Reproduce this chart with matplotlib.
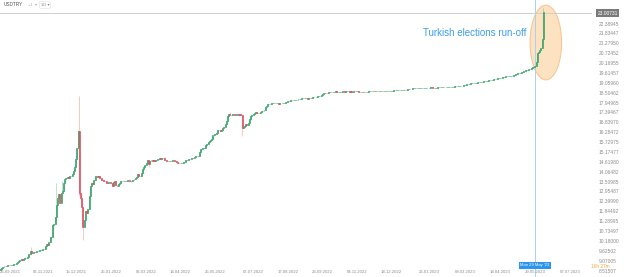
import numpy as np
import pandas as pd
import matplotlib
matplotlib.use("Agg")
import matplotlib.pyplot as plt
import matplotlib.transforms as mtransforms
from matplotlib.patches import Ellipse

plt.rcParams['font.family'] = ['Liberation Sans', 'DejaVu Sans']

# USD/TRY daily closes, month by month (business days)
sep_2021 = [8.62, 8.70, 8.75, 8.82, 8.78, 8.80, 8.85, 8.87, 8.88]
oct_2021 = [8.87, 8.88, 8.90, 8.92, 8.95, 9.03, 9.10, 9.13, 9.18, 9.15, 9.20,
            9.25, 9.25, 9.28, 9.45, 9.47, 9.62, 9.55, 9.58, 9.60, 9.60]
nov_2021 = [9.63, 9.63, 9.70, 9.70, 9.72, 9.73, 9.78, 9.90, 10.05, 10.00, 10.15,
            10.40, 10.45, 11.10, 11.15, 11.55, 12.20, 12.60, 12.85, 12.35, 12.90, 13.00]
dec_2021 = [13.45, 13.70, 13.75, 13.80, 13.75, 13.85, 13.85, 13.95, 14.15, 14.35, 14.80,
            15.40, 16.40, 12.90, 12.60, 12.10, 11.00, 11.40, 11.90, 11.75, 12.00, 12.75, 13.30]
jan_2022 = [13.45, 13.40, 13.65, 13.85, 13.85, 13.80, 13.85, 13.75, 13.65, 13.65, 13.60,
            13.55, 13.45, 13.45, 13.50, 13.50, 13.45, 13.30, 13.50, 13.55, 13.35]
feb_2022 = [13.30, 13.40, 13.45, 13.55, 13.60, 13.60, 13.60, 13.55, 13.60, 13.65,
            13.60, 13.55, 13.60, 13.65, 13.70, 13.75, 13.80, 13.95, 13.85, 13.85]
mar_2022 = [14.05, 14.25, 14.35, 14.45, 14.60, 14.75, 14.55, 14.70, 14.75, 14.70, 14.75,
            14.70, 14.75, 14.80, 14.80, 14.85, 14.80, 14.85, 14.85, 14.75, 14.75, 14.70, 14.70]
apr_2022 = [14.70, 14.72, 14.70, 14.73, 14.70, 14.72, 14.62, 14.58, 14.60, 14.57, 14.60,
            14.60, 14.65, 14.75, 14.75, 14.78, 14.80, 14.80, 14.85, 14.88, 14.85]
may_2022 = [14.90, 14.95, 14.95, 15.00, 15.20, 15.35, 15.40, 15.45, 15.45, 15.60, 15.65,
            15.75, 15.80, 15.90, 15.95, 16.15, 16.20, 16.20, 16.25, 16.45, 16.45, 16.40]
jun_2022 = [16.45, 16.55, 16.60, 16.75, 16.95, 17.20, 17.35, 17.30, 17.30, 17.35, 17.35,
            17.30, 17.35, 17.35, 17.30, 17.35, 17.30, 16.55, 16.60, 16.65, 16.75, 16.70]
jul_2022 = [16.85, 17.05, 17.20, 17.30, 17.35, 17.40, 17.45, 17.40, 17.40, 17.40, 17.45,
            17.50, 17.50, 17.55, 17.75, 17.80, 17.90, 17.90, 17.90, 17.95, 17.95]
aug_2022 = [17.95, 17.95, 17.95, 17.95, 17.92, 17.95, 17.95, 17.97, 17.98, 17.98, 18.00, 18.05,
            18.05, 18.05, 18.15, 18.10, 18.10, 18.12, 18.12, 18.15, 18.17, 18.18, 18.20]
sep_2022 = [18.22, 18.23, 18.23, 18.24, 18.25, 18.20, 18.23, 18.25, 18.25, 18.28, 18.28,
            18.30, 18.30, 18.32, 18.32, 18.35, 18.40, 18.45, 18.50, 18.53, 18.52, 18.50]
oct_2022 = [18.55, 18.55, 18.58, 18.58, 18.58, 18.60, 18.62, 18.60, 18.60, 18.60, 18.60,
            18.60, 18.62, 18.60, 18.62, 18.62, 18.62, 18.60, 18.62, 18.60, 18.60]
nov_2022 = [18.62, 18.62, 18.62, 18.62, 18.60, 18.60, 18.57, 18.58, 18.60, 18.60, 18.60,
            18.60, 18.62, 18.62, 18.62, 18.62, 18.63, 18.62, 18.62, 18.62, 18.63, 18.63]
dec_2022 = [18.63, 18.63, 18.62, 18.63, 18.63, 18.63, 18.63, 18.63, 18.65, 18.65, 18.65,
            18.67, 18.68, 18.68, 18.68, 18.68, 18.70, 18.70, 18.70, 18.70, 18.70, 18.70]
jan_2023 = [18.72, 18.73, 18.75, 18.75, 18.77, 18.78, 18.78, 18.78, 18.78, 18.80, 18.80,
            18.80, 18.80, 18.80, 18.80, 18.82, 18.82, 18.82, 18.82, 18.83, 18.83, 18.82]
feb_2023 = [18.82, 18.82, 18.82, 18.83, 18.85, 18.85, 18.85, 18.85, 18.85, 18.86,
            18.86, 18.86, 18.87, 18.87, 18.88, 18.88, 18.88, 18.89, 18.89, 18.90]
mar_2023 = [18.90, 18.91, 18.92, 18.93, 18.95, 18.96, 18.98, 19.00, 19.02, 19.03, 19.05, 19.05,
            19.06, 19.07, 19.08, 19.10, 19.11, 19.12, 19.13, 19.15, 19.16, 19.17, 19.18]
apr_2023 = [19.19, 19.20, 19.22, 19.22, 19.24, 19.26, 19.28, 19.30, 19.32, 19.34,
            19.35, 19.37, 19.38, 19.40, 19.42, 19.43, 19.45, 19.45, 19.45, 19.45]
may_2023 = [19.45, 19.47, 19.50, 19.55, 19.58, 19.60, 19.62, 19.65, 19.65, 19.70, 19.70, 19.75,
            19.78, 19.80, 19.80, 19.85, 19.88, 19.92, 19.95, 19.98, 20.05, 20.25, 20.75]
jun_2023 = [20.80, 20.95, 21.05, 21.55, 23.08]

first_open = 8.58

# the few wicks that stick out at this scale
wick_highs = {"2021-10-25": 9.85, "2021-11-23": 13.45, "2021-11-30": 13.60,
              "2021-12-20": 18.36, "2022-06-10": 17.45, "2023-06-07": 23.30}
wick_lows = {"2021-11-23": 11.30, "2021-12-20": 12.75, "2021-12-23": 10.25,
             "2022-03-09": 14.35, "2022-06-24": 16.10}

price_labels = ["22.38945", "21.83447", "21.27950", "20.72452", "20.16955", "19.61457",
                "19.05960", "18.50462", "17.94965", "17.39467", "16.83970", "16.28472",
                "15.72975", "15.17477", "14.61980", "14.06482", "13.50985", "12.95487",
                "12.39990", "11.84492", "11.28995", "10.73497", "10.18000", "9.62502",
                "9.07005", "8.51507"]
date_labels = ["26.09.2021", "06.11.2021", "15.12.2021", "25.01.2022", "06.03.2022",
               "14.04.2022", "25.05.2022", "07.07.2022", "17.08.2022", "26.09.2022",
               "04.11.2022", "14.12.2022", "26.01.2023", "09.03.2023", "18.04.2023",
               "29.05.2023", "07.07.2023"]

runoff_date = "29.05.2023"
cross_price = 23.00731
note = "Turkish elections run-off"

closes = np.array(sep_2021 + oct_2021 + nov_2021 + dec_2021 + jan_2022 + feb_2022 +
                  mar_2022 + apr_2022 + may_2022 + jun_2022 + jul_2022 + aug_2022 +
                  sep_2022 + oct_2022 + nov_2022 + dec_2022 + jan_2023 + feb_2023 +
                  mar_2023 + apr_2023 + may_2023 + jun_2023)
days = pd.bdate_range("2021-09-20", "2023-07-31")
dates = days[:len(closes)]
x = np.arange(len(closes))
opens = np.r_[first_open, closes[:-1]]
highs = np.maximum(opens, closes)
lows = np.minimum(opens, closes)
for d, v in wick_highs.items():
    highs[dates.get_loc(pd.Timestamp(d))] = v
for d, v in wick_lows.items():
    lows[dates.get_loc(pd.Timestamp(d))] = v


def bar_index(label):
    return days.searchsorted(pd.to_datetime(label, dayfirst=True))


green = "#3aa36d"
red = "#e0505e"
grey = "#8c8c8c"

fig = plt.figure(figsize=(6.25, 2.77), dpi=100)
ax = fig.add_axes([0, 0, 592 / 625, 1])
ax.set_xlim(-0.3, 487)
ax.set_ylim(8.18, 23.74)
ax.axis("off")

up = closes >= opens
cols = np.where(up, green, red)
ax.vlines(x, lows, highs, colors=cols, lw=0.5, alpha=0.45, zorder=3)
ax.bar(x[up], (closes - opens)[up], bottom=opens[up], width=0.8,
       color=green, edgecolor=green, linewidth=0.5, zorder=4)
ax.bar(x[~up], (closes - opens)[~up], bottom=opens[~up], width=0.8,
       color=red, edgecolor=red, linewidth=0.5, zorder=4)

# crosshair
ri = bar_index(runoff_date)
ax.axvline(ri, color="#a9d0f5", lw=0.7, zorder=2)
ax.axhline(cross_price, color="#cfcfcf", lw=0.7, zorder=2)

# annotation
ax.add_patch(Ellipse((ri + 9, 21.35), 26, 4.2, facecolor="#fcd9ad", alpha=0.75,
                     edgecolor="#f6b56b", lw=0.7, zorder=1))
ax.text(ri - 7, 21.9, note, color="#3d9cf0", fontsize=7.0, ha="right", va="center")

# price axis
right = mtransforms.blended_transform_factory(ax.transAxes, ax.transData)
for lab in price_labels:
    ax.text(1.011, float(lab), lab, transform=right, fontsize=3.5, color=grey,
            ha="left", va="center", clip_on=False)
ax.text(1.009, cross_price, f"{cross_price:.5f}", transform=right, fontsize=3.5,
        color="white", ha="left", va="center", clip_on=False,
        bbox=dict(boxstyle="square,pad=0.25", fc="#7a7a7a", ec="none"))
ax.text(0.999, 0.038, "16h 27m", transform=ax.transAxes, fontsize=3.4, color="#f5a53f",
        ha="left", va="center", clip_on=False)

# time axis
bottom = mtransforms.blended_transform_factory(ax.transData, ax.transAxes)
for lab in date_labels:
    pos = bar_index(lab)
    ax.text(max(pos, 8), 0.018, lab, transform=bottom, fontsize=3.1, color=grey,
            ha="center", va="center", clip_on=False)
ax.text(ri, 0.042, "Mon 29 May '23", transform=bottom, fontsize=3.0,
        color="white", ha="center", va="center",
        bbox=dict(boxstyle="square,pad=0.3", fc="#2b95f0", ec="none"))

# legend header
fig.text(0.006, 1 - 5 / 277, "USDTRY", fontsize=3.4, color="#555555", va="center")
fig.text(0.045, 1 - 5 / 277, "+1  \u25be", fontsize=3.0, color="#aaaaaa", va="center")
fig.text(0.065, 1 - 5 / 277, "1D \u25be", fontsize=3.0, color="#888888", va="center",
         bbox=dict(boxstyle="round,pad=0.3", fc="white", ec="#dddddd", lw=0.4))

fig.savefig("out.png", dpi=100)
